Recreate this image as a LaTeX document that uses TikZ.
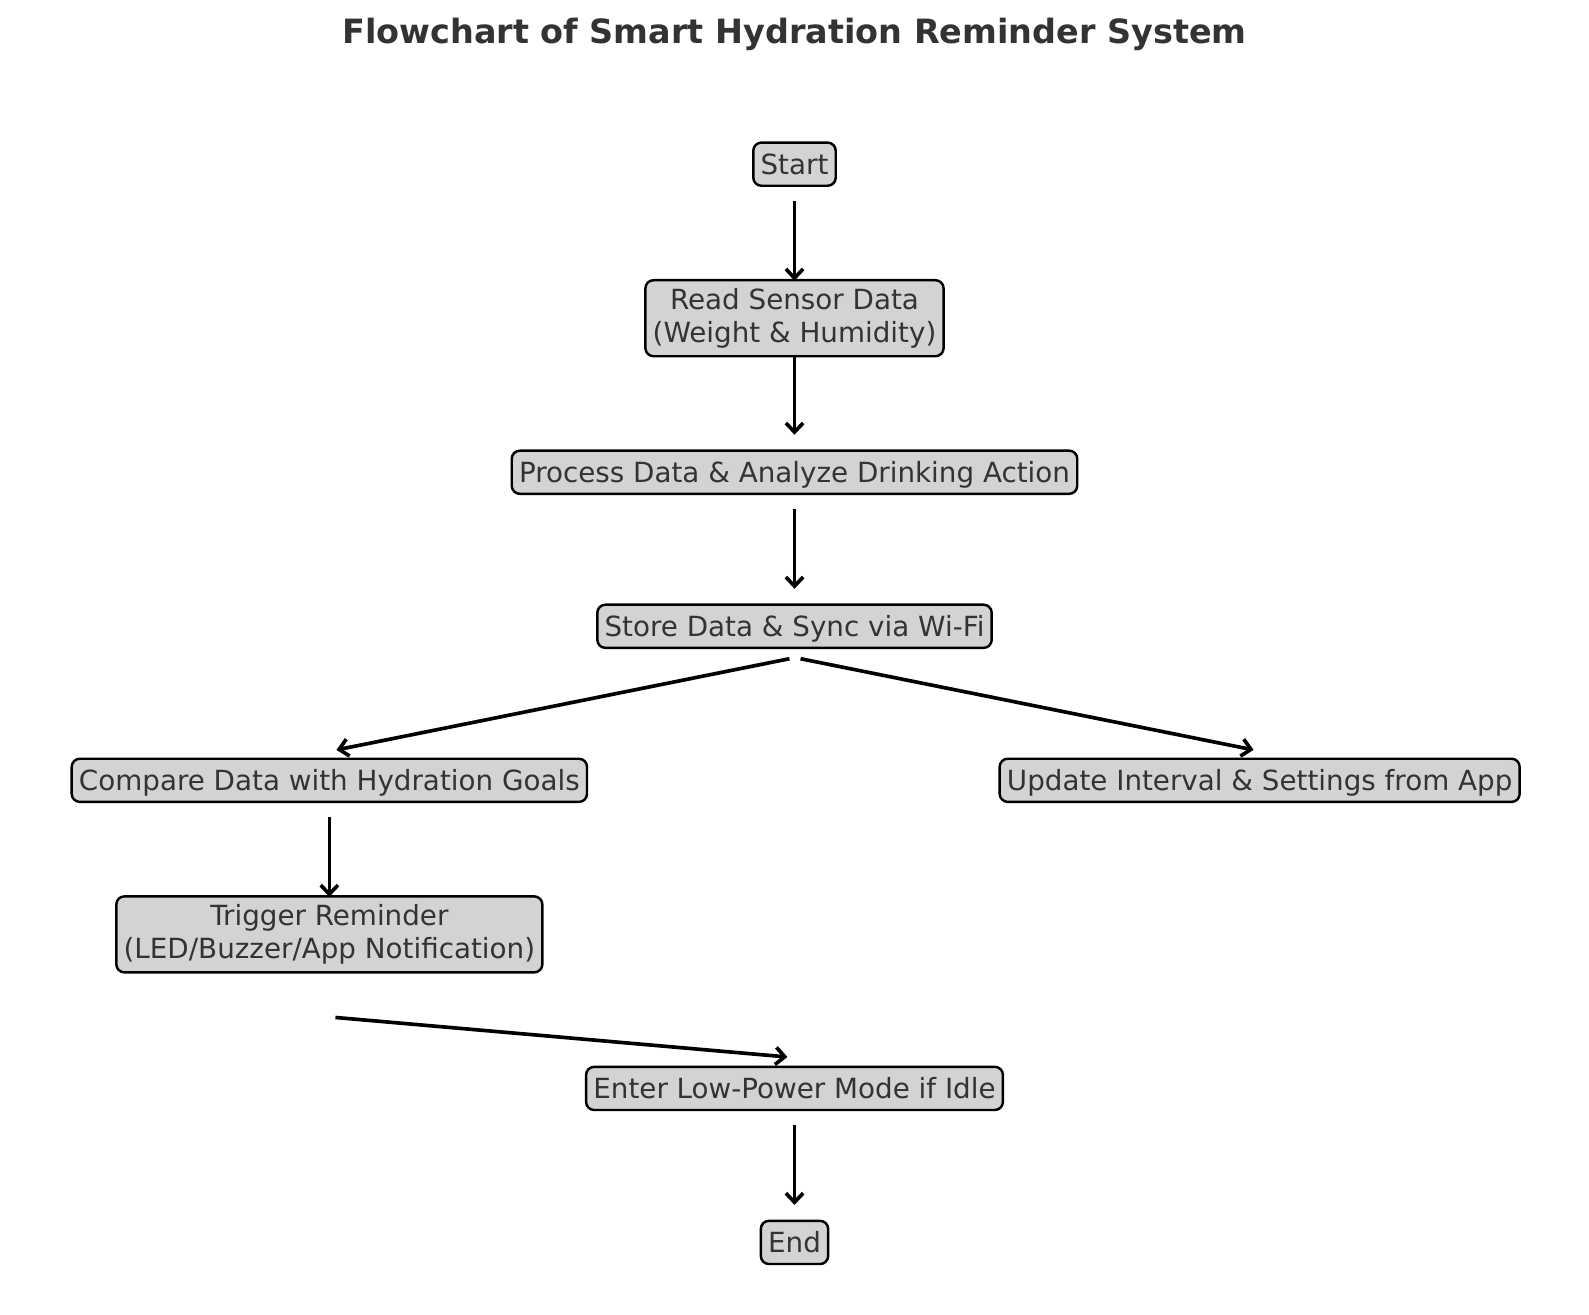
\documentclass[tikz,border=0pt]{standalone}
\usepackage{fontspec}
\newfontfamily\dejavu{DejaVu Sans}
\usetikzlibrary{arrows.meta,calc,positioning}
\definecolor{boxgray}{HTML}{D3D3D3}
\definecolor{txtgray}{HTML}{333333}
\tikzset{
  stepbox/.style={draw=black,fill=boxgray,line width=1.2pt,rounded corners=4pt,
    text=txtgray,align=center,font=\dejavu\fontsize{13.7}{16}\selectfont,
    inner xsep=3.6pt,inner ysep=3.3pt,text height=12.2pt,text depth=2.5pt},
  twolines/.style={text height=,text depth=,minimum height=37.5pt,inner ysep=2pt},
  flow/.style={-{Straight Barb[length=4.5pt,width=8.5pt]},line width=1.8pt,black},
  titulo/.style={text=txtgray,font=\dejavu\bfseries\fontsize{16.5}{19}\selectfont}
}
\begin{document}
\begin{tikzpicture}[x=0.5pt,y=-0.5pt]
\useasboundingbox (0,0) rectangle (1568,1297);
\node[titulo] (title) at (784,34) {Flowchart of Smart Hydration Reminder System};
% pasos
\node[stepbox] (start) at (784,162) {Start};
\node[stepbox,twolines] (read) at (784,314) {Read Sensor Data\\(Weight \& Humidity)};
\node[stepbox] (proc) at (784,466) {Process Data \& Analyze Drinking Action};
\node[stepbox] (store) at (784,618) {Store Data \& Sync via Wi-Fi};
\node[stepbox] (compare) at (325,770) {Compare Data with Hydration Goals};
\node[stepbox] (update) at (1243,770) {Update Interval \& Settings from App};
\node[stepbox,twolines] (trigger) at (325,922) {Trigger Reminder\\(LED/Buzzer/App Notification)};
\node[stepbox] (enter) at (784,1074) {Enter Low-Power Mode if Idle};
\node[stepbox] (finish) at (784,1226) {End};
% flechas
\foreach \a/\b in {start/read, read/proc, proc/store, compare/trigger, enter/finish}{
  \draw[flow] ([yshift=-18pt]\a.center) -- ([yshift=18.5pt]\b.center);}
\draw[flow] ($(store.center)+(-5,32)$) -- ($(compare.center)+(7,-30)$);
\draw[flow] ($(store.center)+(6,32)$) -- ($(update.center)+(-6,-30)$);
\draw[flow] ($(trigger.center)+(6,82)$) -- ($(enter.center)+(-7,-31)$);
\end{tikzpicture}
\end{document}
